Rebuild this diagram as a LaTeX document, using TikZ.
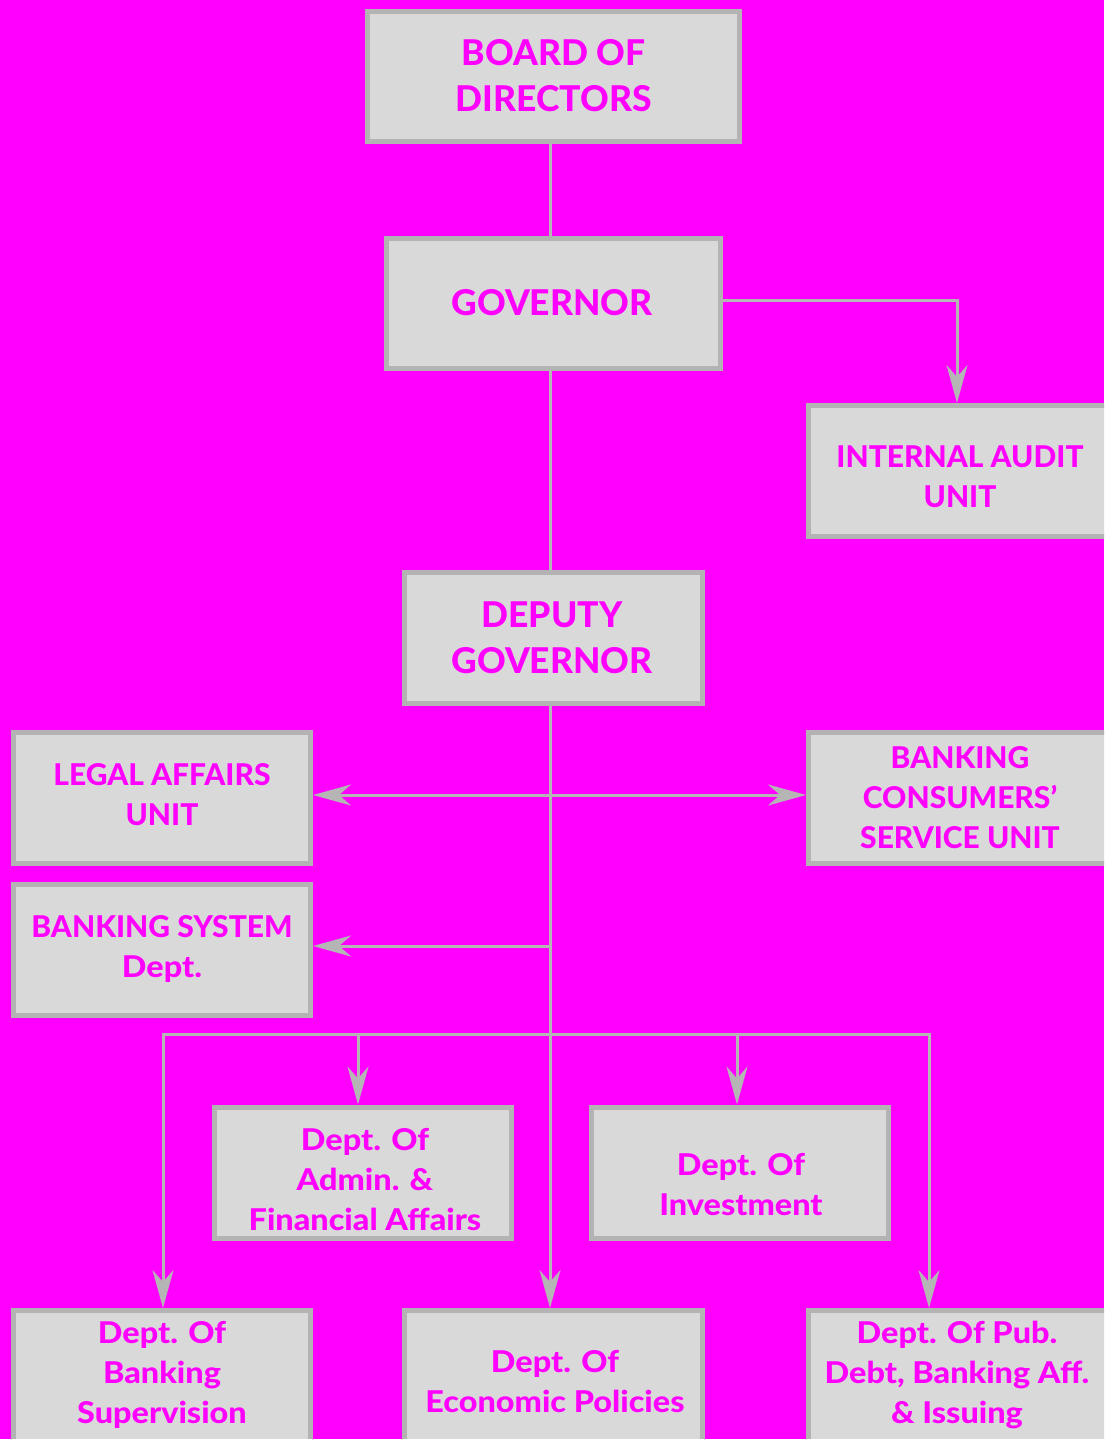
\documentclass[tikz,border=0pt]{standalone}
\usepackage{fontspec}
\setmainfont{Lato}[BoldFont={Lato Heavy}]
\newfontfamily\lcfont{Lato}[BoldFont={Lato Heavy}, FakeStretch=1.08]
\usetikzlibrary{arrows.meta}
\definecolor{mag}{HTML}{FF00FF}
\definecolor{bord}{HTML}{B3B3B3}
\definecolor{boxfill}{HTML}{D9D9D9}
\definecolor{lin}{HTML}{B5B5B5}
\begin{document}
\begin{tikzpicture}[x=1pt,y=-1pt,
  box/.style={draw=bord, line width=5pt, fill=boxfill, inner sep=0pt,
              minimum width=297pt, minimum height=131pt},
  big/.style={text=mag, align=center, inner sep=0pt,
              font=\fontsize{35.5}{46}\selectfont\bfseries},
  small/.style={text=mag, align=center, inner sep=0pt,
              font=\fontsize{30}{40}\selectfont\bfseries},
  mixed/.style={text=mag, align=center, inner sep=0pt,
              font=\lcfont\fontsize{30}{40}\selectfont\bfseries},
  conn/.style={draw=lin, line width=3pt},
  tip/.tip={Stealth[length=38pt, width=21pt, inset=12pt]},
  arr/.style={conn, -{tip[fill=lin]}},
  arrb/.style={conn, {tip[fill=lin]}-{tip[fill=lin]}}
]
\fill[mag] (0,0) rectangle (1104,1439);
\useasboundingbox (0,0) rectangle (1104,1439);
\clip (0,0) rectangle (1104,1439);

% boxes
\node[box, minimum width=372pt, minimum height=130pt] (board) at (553.5,76.5) {};
\node[box, minimum width=334pt, minimum height=130pt] (gov) at (553.5,303.5) {};
\node[box, minimum width=303pt] (audit) at (960,471) {};
\node[box, minimum width=298pt] (dep) at (553.5,638) {};
\node[box] (legal) at (162,797.5) {};
\node[box, minimum width=303pt] (cons) at (960,797.5) {};
\node[box] (bsys) at (162,949.5) {};
\node[box] (admin) at (362.5,1172.5) {};
\node[box] (inv) at (740,1172.5) {};
\node[box] (sup) at (162,1376) {};
\node[box, minimum width=298pt] (econ) at (553.5,1376) {};
\node[box, minimum width=303pt] (pub) at (960,1376) {};

% texts
\node[big] (board-t) at (553.5,75.5) {BOARD OF\\DIRECTORS};
\node[big] (gov-t) at (552,303) {GOVERNOR};
\node[small] (audit-t) at (960,477) {INTERNAL AUDIT\\UNIT};
\node[big] (dep-t) at (552,638) {DEPUTY\\GOVERNOR};
\node[small] (legal-t) at (162,794.5) {LEGAL AFFAIRS\\UNIT};
\node[small] (cons-t) at (960,798) {BANKING\\CONSUMERS'\\SERVICE UNIT};
\node[small] (bsys-t) at (162,949) {BANKING SYSTEM\\{\lcfont\bfseries Dept.}};
\node[mixed] (admin-t) at (365,1180) {Dept. Of\\Admin. \&\\Financial Affairs};
\node[mixed] (inv-t) at (741,1184.5) {Dept. Of\\Investment};
\node[mixed] (sup-t) at (162,1375) {Dept. Of\\Banking\\Supervision};
\node[mixed] (econ-t) at (555,1381.5) {Dept. Of\\Economic Policies};
\node[mixed] (pub-t) at (957,1375) {Dept. Of Pub.\\Debt, Banking Aff.\\\& Issuing};

% junction coordinates
\coordinate (sp) at (550,0);
\coordinate (ja) at (957,300);
\coordinate (j1) at (550,795);
\coordinate (j2) at (550,946);
\coordinate (hl) at (163,1034);
\coordinate (hr) at (929,1034);
\coordinate (ha) at (358,1034);
\coordinate (hi) at (737,1034);

% connectors
\draw[conn] (board.south -| sp) -- (gov.north -| sp);
\draw[conn] (gov.south -| sp) -- (dep.north -| sp);
\draw[arr] (dep.south -| sp) -- (econ.north -| sp);
\draw[arr] (gov.east |- ja) -| (audit.north -| ja);
\draw[arrb] (legal.east |- j1) -- (cons.west |- j1);
\draw[arr] (j2) -- (bsys.east |- j2);
\draw[arrb] (sup.north -| hl) -- (hl) -- (hr) -- (pub.north -| hr);
\draw[arr] (ha) -- (admin.north -| ha);
\draw[arr] (hi) -- (inv.north -| hi);
\end{tikzpicture}
\end{document}
